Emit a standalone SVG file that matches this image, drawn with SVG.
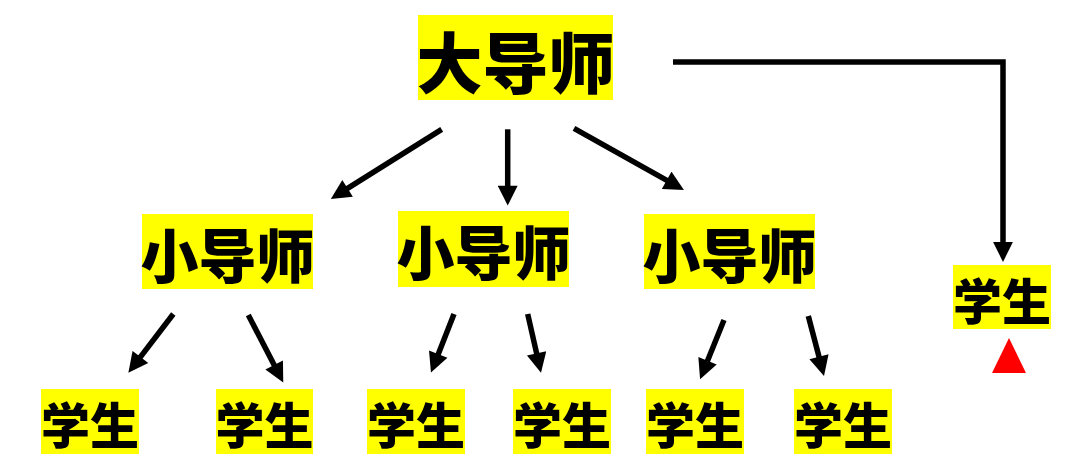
<svg xmlns="http://www.w3.org/2000/svg" width="1080" height="469" viewBox="0 0 1080 469">
<style>
.box{fill:#FFFF00}
.t{font-family:"Microsoft YaHei","Noto Sans CJK SC",sans-serif;font-weight:900;fill:#000;text-anchor:middle}
.big{font-size:66px}
.mid{font-size:58px}
.sm{font-size:49px}
.c{stroke:#000;stroke-width:5.5;fill:none;marker-end:url(#ah)}
</style>
<defs>
<marker id="ah" viewBox="0 0 10 10" refX="5" refY="5" markerWidth="3.8" markerHeight="3.6" orient="auto" markerUnits="strokeWidth">
<path d="M0,0 L10,5 L0,10 z" fill="#000"/>
</marker>
</defs>
<rect width="1080" height="469" fill="#fff"/>
<g id="connectors">
<line class="c" x1="441.7" y1="129.3" x2="339.2" y2="193.7"/>
<line class="c" x1="507.7" y1="129.3" x2="507.7" y2="195.7"/>
<line class="c" x1="574" y1="128.3" x2="675.3" y2="185.1"/>
<line class="c" x1="173.3" y1="314" x2="134.4" y2="364.8"/>
<line class="c" x1="248.3" y1="315" x2="278.7" y2="373.8"/>
<line class="c" x1="454" y1="314" x2="434.6" y2="363.4"/>
<line class="c" x1="527.7" y1="314" x2="538.8" y2="363"/>
<line class="c" x1="724" y1="320" x2="703.8" y2="370"/>
<line class="c" x1="808.3" y1="316" x2="821.5" y2="366.3"/>
<path class="c" d="M673,62 H1003 V252" stroke-linejoin="miter"/>
</g>
<g id="n-top"><rect class="box" x="418" y="15" width="195" height="85"/><text class="t big" x="515.5" y="88">大导师</text></g>
<g id="n-s1"><rect class="box" x="142" y="214" width="171" height="75"/><text class="t mid" x="227.5" y="278">小导师</text></g>
<g id="n-s2"><rect class="box" x="398" y="211" width="171" height="76"/><text class="t mid" x="483.5" y="275">小导师</text></g>
<g id="n-s3"><rect class="box" x="644" y="214" width="171" height="75"/><text class="t mid" x="729.5" y="278">小导师</text></g>
<g id="n-a"><rect class="box" x="41" y="389" width="98" height="65"/><text class="t sm" x="90" y="444">学生</text></g>
<g id="n-b"><rect class="box" x="216" y="389" width="97" height="65"/><text class="t sm" x="264.5" y="444">学生</text></g>
<g id="n-c"><rect class="box" x="367" y="389" width="98" height="65"/><text class="t sm" x="416" y="444">学生</text></g>
<g id="n-d"><rect class="box" x="513" y="389" width="98" height="65"/><text class="t sm" x="562" y="444">学生</text></g>
<g id="n-e"><rect class="box" x="646" y="389" width="98" height="65"/><text class="t sm" x="695" y="444">学生</text></g>
<g id="n-f"><rect class="box" x="794" y="389" width="98" height="65"/><text class="t sm" x="843" y="444">学生</text></g>
<g id="n-r"><rect class="box" x="953" y="265" width="98" height="64"/><text class="t sm" x="1002" y="320">学生</text></g>
<polygon points="992,373 1026,373 1009,338" fill="#FF0000"/>
</svg>
